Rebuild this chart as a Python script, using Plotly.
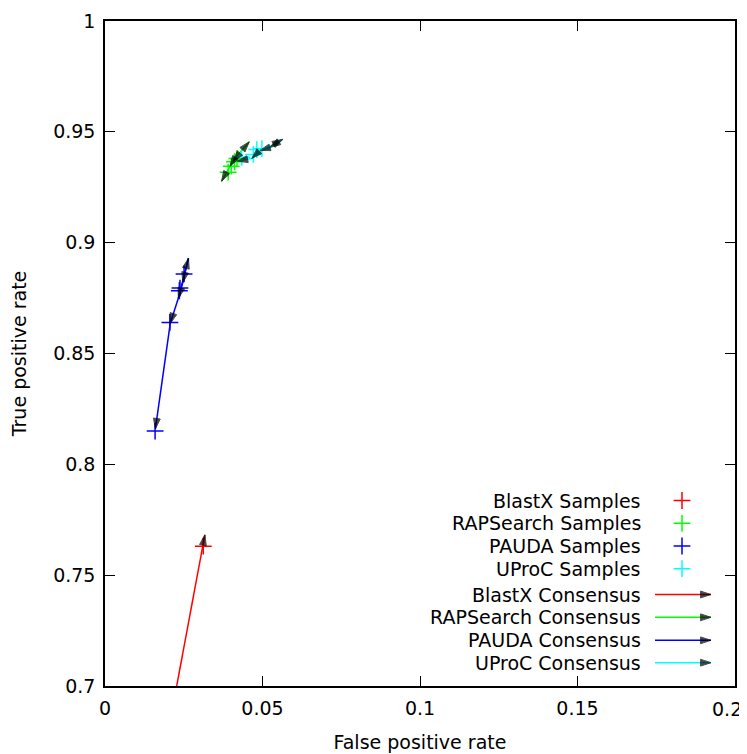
import plotly.graph_objects as go

# ---------------- data ----------------
blastx_samples_x = [0.0312]
blastx_samples_y = [0.7631]
rapsearch_samples_x = [0.0391, 0.0401, 0.0411, 0.0419]
rapsearch_samples_y = [0.9318, 0.9345, 0.9365, 0.9380]
pauda_samples_x = [0.0159, 0.0206, 0.0236, 0.0238, 0.0251]
pauda_samples_y = [0.8150, 0.8640, 0.8783, 0.8795, 0.8859]
uproc_samples_x = [0.0434, 0.0471, 0.0482, 0.0498]
uproc_samples_y = [0.9385, 0.9398, 0.9420, 0.9424]

# consensus vectors: start (x0, y0) -> end (x1, y1)
blastx_cons_x0 = [0.0162]
blastx_cons_y0 = [0.6500]
blastx_cons_x1 = [0.0317]
blastx_cons_y1 = [0.7682]

rapsearch_cons_x0 = [0.0405, 0.0420, 0.0407, 0.0397]
rapsearch_cons_y0 = [0.9368, 0.9390, 0.9368, 0.9345]
rapsearch_cons_x1 = [0.0458, 0.0407, 0.0397, 0.0370]
rapsearch_cons_y1 = [0.9455, 0.9368, 0.9345, 0.9277]

pauda_cons_x0 = [0.0233, 0.0265, 0.0247, 0.0233, 0.0207]
pauda_cons_y0 = [0.8750, 0.8930, 0.8820, 0.8750, 0.8635]
pauda_cons_x1 = [0.0265, 0.0247, 0.0233, 0.0207, 0.0160]
pauda_cons_y1 = [0.8930, 0.8820, 0.8750, 0.8635, 0.8160]

uproc_cons_x0 = [0.0480, 0.0564, 0.0524, 0.0492, 0.0466]
uproc_cons_y0 = [0.9400, 0.9466, 0.9430, 0.9416, 0.9380]
uproc_cons_x1 = [0.0564, 0.0524, 0.0492, 0.0466, 0.0420]
uproc_cons_y1 = [0.9466, 0.9430, 0.9416, 0.9380, 0.9368]

series_names = ["BlastX", "RAPSearch", "PAUDA", "UProC"]
series_colors = ["#ff0000", "#00ff00", "#0000ff", "#00ffff"]

x_ticks = [0, 0.05, 0.1, 0.15, 0.2]
x_tick_labels = ["0", "0.05", "0.1", "0.15", "0.2"]
y_ticks = [0.7, 0.75, 0.8, 0.85, 0.9, 0.95, 1.0]
y_tick_labels = ["0.7", "0.75", "0.8", "0.85", "0.9", "0.95", "1"]

FONT = "DejaVu Sans"
FS = 19

samples = [
    (blastx_samples_x, blastx_samples_y),
    (rapsearch_samples_x, rapsearch_samples_y),
    (pauda_samples_x, pauda_samples_y),
    (uproc_samples_x, uproc_samples_y),
]
consensus = [
    (blastx_cons_x0, blastx_cons_y0, blastx_cons_x1, blastx_cons_y1),
    (rapsearch_cons_x0, rapsearch_cons_y0, rapsearch_cons_x1, rapsearch_cons_y1),
    (pauda_cons_x0, pauda_cons_y0, pauda_cons_x1, pauda_cons_y1),
    (uproc_cons_x0, uproc_cons_y0, uproc_cons_x1, uproc_cons_y1),
]

fig = go.Figure()

ARROW_SIZE = 11
ARROW_STYLE = dict(symbol="arrow", size=[0, ARROW_SIZE], color="black",
                   angleref="previous", line=dict(width=1, color="black"))

# consensus vectors (colored shaft, black head)
for (x0s, y0s, x1s, y1s), color in zip(consensus, series_colors):
    for x0, y0, x1, y1 in zip(x0s, y0s, x1s, y1s):
        fig.add_trace(go.Scatter(
            x=[x0, x1], y=[y0, y1], mode="lines",
            line=dict(color=color, width=1.5),
            showlegend=False, hoverinfo="skip"))

# samples
for (xs, ys), color in zip(samples, series_colors):
    fig.add_trace(go.Scatter(
        x=xs, y=ys, mode="markers",
        marker=dict(symbol="cross-thin", size=12, color=color,
                    line=dict(color=color, width=1.5)),
        showlegend=False, hoverinfo="skip"))

for (x0s, y0s, x1s, y1s), color in zip(consensus, series_colors):
    for x0, y0, x1, y1 in zip(x0s, y0s, x1s, y1s):
        fig.add_trace(go.Scatter(
            x=[x0, x1], y=[y0, y1], mode="markers",
            marker=ARROW_STYLE,
            cliponaxis=True, showlegend=False, hoverinfo="skip"))

# ---------------- gnuplot-like key (on hidden pixel axes) ----------------
key_rows_y = [500.5, 523.3, 546.0, 568.7, 594.5, 617.3, 640.3, 662.7]
key_text_x = 643
key_marker_x = 682
key_line_x0 = 655
key_line_x1 = 711

for i, (name, color) in enumerate(zip(series_names, series_colors)):
    ry = key_rows_y[i]
    fig.add_trace(go.Scatter(
        x=[key_marker_x], y=[ry], xaxis="x2", yaxis="y2", mode="markers",
        marker=dict(symbol="cross-thin", size=12, color=color,
                    line=dict(color=color, width=1.5)),
        showlegend=False, hoverinfo="skip"))
    fig.add_annotation(x=key_text_x, y=ry, xref="x2", yref="y2",
                       text=f"{name} Samples", showarrow=False,
                       xanchor="right", yanchor="middle",
                       font=dict(family=FONT, size=FS, color="black"))
for i, (name, color) in enumerate(zip(series_names, series_colors)):
    ry = key_rows_y[4 + i]
    fig.add_trace(go.Scatter(
        x=[key_line_x0, key_line_x1], y=[ry, ry], xaxis="x2", yaxis="y2",
        mode="lines", line=dict(color=color, width=1.5),
        showlegend=False, hoverinfo="skip"))
    fig.add_trace(go.Scatter(
        x=[key_line_x0, key_line_x1], y=[ry, ry], xaxis="x2", yaxis="y2",
        mode="markers", marker=ARROW_STYLE,
        showlegend=False, hoverinfo="skip"))
    fig.add_annotation(x=key_text_x, y=ry, xref="x2", yref="y2",
                       text=f"{name} Consensus", showarrow=False,
                       xanchor="right", yanchor="middle",
                       font=dict(family=FONT, size=FS, color="black"))

# last x tick label drawn as an annotation, nudged so it stays inside the page
fig.add_annotation(x=x_ticks[-1], y=0, xref="x", yref="paper",
                   text=x_tick_labels[-1], showarrow=False,
                   xanchor="center", yanchor="top", xshift=-8, yshift=-10,
                   font=dict(family=FONT, size=FS, color="black"))

axis_common = dict(
    showline=True, linecolor="black", linewidth=1.5, mirror="allticks",
    ticks="inside", ticklen=10, tickwidth=1, tickcolor="black",
    showgrid=False, zeroline=False, automargin=False,
    ticklabeloverflow="allow",
    tickfont=dict(family=FONT, size=FS, color="black"),
)

# page body adds an 8px offset; margins compensate so the plot box sits
# where the reference's does
fig.update_layout(
    width=739, height=746,
    margin=dict(l=97, r=12, t=13, b=68),
    paper_bgcolor="white", plot_bgcolor="white",
    showlegend=False,
    font=dict(family=FONT, size=FS, color="black"),
    xaxis=dict(range=[0, 0.2], tickvals=x_ticks,
               ticktext=x_tick_labels[:-1] + [""],
               ticklabelstandoff=4,
               title=dict(text="False positive rate",
                          font=dict(family=FONT, size=FS), standoff=18),
               **axis_common),
    yaxis=dict(range=[0.7, 1.0], tickvals=y_ticks,
               ticktext=y_tick_labels,
               ticklabelstandoff=4,
               title=dict(text="True positive rate",
                          font=dict(family=FONT, size=FS), standoff=26),
               **axis_common),
    xaxis2=dict(overlaying="x", range=[105, 735], visible=False, anchor="y2"),
    yaxis2=dict(overlaying="y", range=[686, 21], visible=False, anchor="x2"),
)

fig.write_html("out.html")
